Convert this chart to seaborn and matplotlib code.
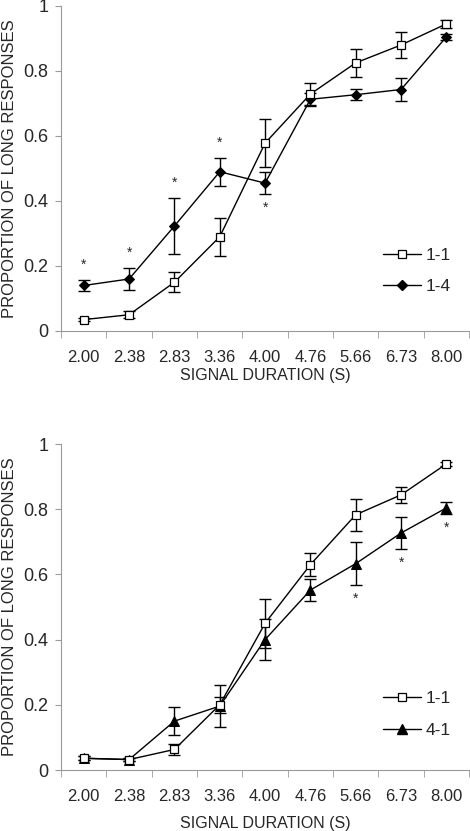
import numpy as np
import pandas as pd
import matplotlib
matplotlib.use('Agg')
import matplotlib.pyplot as plt
import seaborn as sns
from matplotlib.lines import Line2D

durations = ['2.00', '2.38', '2.83', '3.36', '4.00', '4.76', '5.66', '6.73', '8.00']

# top panel: 1-1 vs 1-4
top_11 = [0.035, 0.05, 0.15, 0.29, 0.578, 0.729, 0.825, 0.88, 0.945]
top_11_err = [0.005, 0.01, 0.03, 0.058, 0.073, 0.033, 0.043, 0.04, 0.013]
top_14 = [0.14, 0.16, 0.323, 0.49, 0.455, 0.713, 0.727, 0.743, 0.905]
top_14_err = [0.017, 0.034, 0.085, 0.043, 0.035, 0.02, 0.017, 0.034, 0.01]
top_stars = [0, 1, 2, 3, 4]
top_star_side = ['up', 'up', 'up', 'up', 'down']

# bottom panel: 1-1 vs 4-1
bot_11 = [0.036, 0.032, 0.063, 0.2, 0.45, 0.63, 0.783, 0.844, 0.939]
bot_11_err = [0.006, 0.005, 0.017, 0.025, 0.075, 0.035, 0.049, 0.025, 0.006]
bot_41 = [0.036, 0.032, 0.15, 0.196, 0.40, 0.552, 0.633, 0.727, 0.804]
bot_41_err = [0.006, 0.005, 0.042, 0.065, 0.063, 0.033, 0.065, 0.049, 0.019]
bot_stars = [6, 7, 8]
bot_star_side = ['down', 'down', 'down']

sns.set_style('white')
plt.rcParams['font.family'] = ['Liberation Sans', 'DejaVu Sans']

fig = plt.figure(figsize=(4.7, 8.31), dpi=100)
ax1 = fig.add_axes([0.130, 0.6017, 0.868, 0.3911])
ax2 = fig.add_axes([0.130, 0.0734, 0.868, 0.3923])


def panel(ax, y_a, e_a, y_b, e_b, lab_b, mk_b, ms_b, stars, sides, leg_y, xpad):
    pos = np.arange(len(durations))
    df = pd.DataFrame({'pos': np.concatenate([pos, pos]),
                       'p': y_a + y_b,
                       'grp': ['1-1'] * len(pos) + [lab_b] * len(pos)})
    sns.lineplot(data=df, x='pos', y='p', hue='grp', style='grp',
                 palette=['black', 'black'], markers={'1-1': 's', lab_b: mk_b},
                 dashes=False, lw=1, ax=ax, legend=False)
    lines = ax.get_lines()
    lines[0].set_markerfacecolor('white')
    lines[0].set_markeredgecolor('black')
    lines[0].set_markersize(5.5)
    lines[0].set_markeredgewidth(0.9)
    lines[0].set_zorder(4)
    lines[1].set_markerfacecolor('black')
    lines[1].set_markeredgecolor('black')
    lines[1].set_markersize(ms_b)
    lines[1].set_zorder(3)
    ax.errorbar(pos, y_a, yerr=e_a, fmt='none', ecolor='black', elinewidth=1,
                capsize=4, capthick=1, zorder=2)
    ax.errorbar(pos, y_b, yerr=e_b, fmt='none', ecolor='black', elinewidth=1,
                capsize=4, capthick=1, zorder=2)
    for i, s in zip(stars, sides):
        if s == 'up':
            ax.text(i, y_b[i] + e_b[i] + 0.025, '*', ha='center', va='bottom', fontsize=10)
        else:
            ax.text(i, y_b[i] - e_b[i] - 0.02, '*', ha='center', va='top', fontsize=10)

    h1 = Line2D([], [], color='black', lw=1, marker='s', ms=5.5, mfc='white', mec='black', mew=0.9)
    h2 = Line2D([], [], color='black', lw=1, marker=mk_b, ms=ms_b, mfc='black', mec='black')
    ax.legend([h1, h2], ['1-1', lab_b], loc='center left', bbox_to_anchor=(0.75, leg_y),
              frameon=False, fontsize=12.5, handlelength=2.2, handletextpad=0.3,
              labelspacing=0.95)

    ax.set_xlim(-0.5, len(durations) - 0.5)
    ax.set_ylim(0, 1)
    ax.set_xticks(pos)
    ax.set_xticklabels(durations)
    ax.set_xticks(np.arange(-0.5, len(durations), 1.0), minor=True)
    ax.tick_params(axis='x', which='major', length=0, pad=14, labelsize=12)
    ax.tick_params(axis='x', which='minor', length=5, color='#999999', direction='out', bottom=True)
    ax.set_yticks([0, 0.2, 0.4, 0.6, 0.8, 1.0])
    ax.set_yticklabels(['0', '0.2', '0.4', '0.6', '0.8', '1'])
    ax.tick_params(axis='y', length=4, color='#999999', direction='out', left=True, labelsize=13, pad=5)
    sns.despine(ax=ax)
    for sp in ['left', 'bottom']:
        ax.spines[sp].set_color('#999999')
        ax.spines[sp].set_linewidth(0.8)
    ax.set_xlabel('SIGNAL DURATION (S)', fontsize=11.5, labelpad=xpad)
    ax.set_ylabel('PROPORTION OF LONG RESPONSES', fontsize=12)
    ax.yaxis.set_label_coords(-0.108, 0.5)


panel(ax1, top_11, top_11_err, top_14, top_14_err, '1-4', 'D', 5, top_stars, top_star_side, 0.185, 1.5)
panel(ax2, bot_11, bot_11_err, bot_41, bot_41_err, '4-1', '^', 6.5, bot_stars, bot_star_side, 0.17, 8)

fig.savefig('out.png', dpi=100)
